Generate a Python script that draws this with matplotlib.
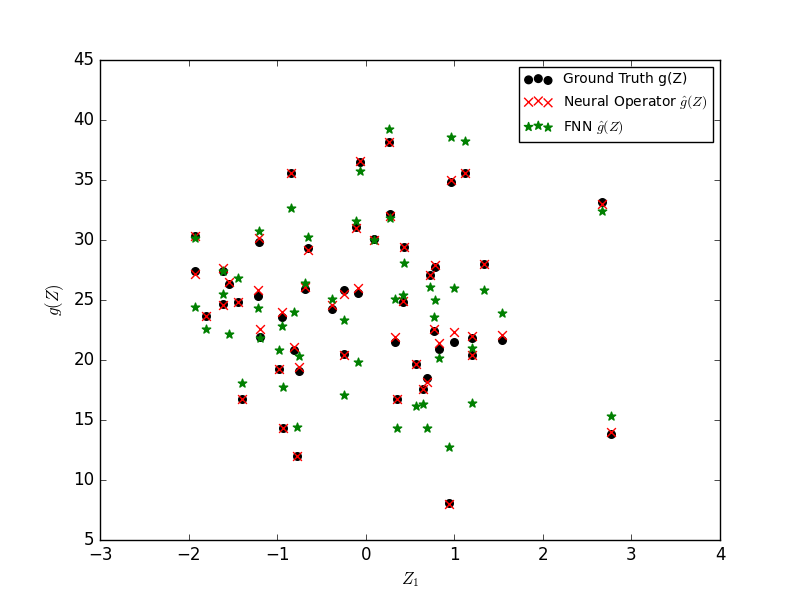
import matplotlib
matplotlib.use("Agg")
import matplotlib.pyplot as plt
import numpy as np

plt.style.use('classic')

z1 = [-1.93, -1.93, -1.80, -1.61, -1.61, -1.544, -1.44, -1.40,
      -1.205, -1.215, -1.19, -0.979, -0.945, -0.93, -0.843, -0.81,
      -0.776, -0.753, -0.685, -0.652, -0.38, -0.245, -0.245, -0.11,
      -0.087, -0.064, 0.094, 0.263, 0.274, 0.331, 0.353, 0.42, 0.432,
      0.568, 0.647, 0.692, 0.726, 0.77, 0.782, 0.83, 0.94, 0.963, 0.997,
      1.12, 1.2, 1.2, 1.336, 1.539, 2.668, 2.77]

g_true = [30.3, 27.4, 23.7, 27.4, 24.7, 26.3, 24.8, 16.75,
          29.8, 25.3, 21.9, 19.25, 23.6, 14.3, 35.6, 20.8,
          12.0, 19.1, 25.9, 29.3, 24.25, 25.8, 20.5, 31.1,
          25.6, 36.5, 30.1, 38.2, 32.2, 21.5, 16.75, 24.8, 29.4,
          19.7, 17.6, 18.5, 27.1, 22.4, 27.75, 20.9, 8.1, 34.8, 21.5,
          35.6, 21.8, 20.4, 28.0, 21.7, 33.2, 13.8]

g_no = [30.3, 27.2, 23.7, 27.7, 24.6, 26.5, 24.8, 16.75,
        30.2, 25.8, 22.6, 19.25, 24.0, 14.3, 35.6, 21.1,
        12.0, 19.4, 26.1, 29.2, 24.6, 25.5, 20.4, 31.0,
        26.0, 36.6, 30.0, 38.2, 32.0, 21.9, 16.75, 24.9, 29.4,
        19.7, 17.6, 18.2, 27.1, 22.6, 27.9, 21.4, 8.0, 35.0, 22.3,
        35.6, 22.0, 20.4, 28.0, 22.1, 33.0, 14.0]

g_fnn = [30.2, 24.4, 22.6, 27.4, 25.5, 22.2, 26.8, 18.1,
         30.75, 24.3, 21.8, 20.8, 22.8, 17.75, 32.7, 24.0,
         14.4, 20.3, 26.4, 30.25, 25.1, 23.3, 17.1, 31.6,
         19.8, 35.75, 30.0, 39.25, 31.8, 25.1, 14.3, 25.4, 28.1,
         16.2, 16.3, 14.3, 26.1, 23.6, 25.0, 20.2, 12.75, 38.6, 26.0,
         38.25, 21.0, 16.4, 25.8, 23.9, 32.4, 15.3]

fig, ax = plt.subplots(figsize=(8, 6), dpi=100)
ax.scatter(z1, g_true, c='k', marker='o', edgecolors='k', s=30, label='Ground Truth g(Z)')
ax.scatter(z1, g_no, c='r', marker='x', s=40, label=r'Neural Operator $\hat{g}(Z)$')
ax.scatter(z1, g_fnn, c='g', marker='*', edgecolors='g', s=40, label=r'FNN $\hat{g}(Z)$')

ax.set_xlim(-3, 4)
ax.set_ylim(5, 45)
ax.set_xlabel(r'$Z_1$')
ax.set_ylabel(r'$g(Z)$')
ax.legend(loc='upper right', fontsize=10)

fig.savefig('out.png', dpi=100)
